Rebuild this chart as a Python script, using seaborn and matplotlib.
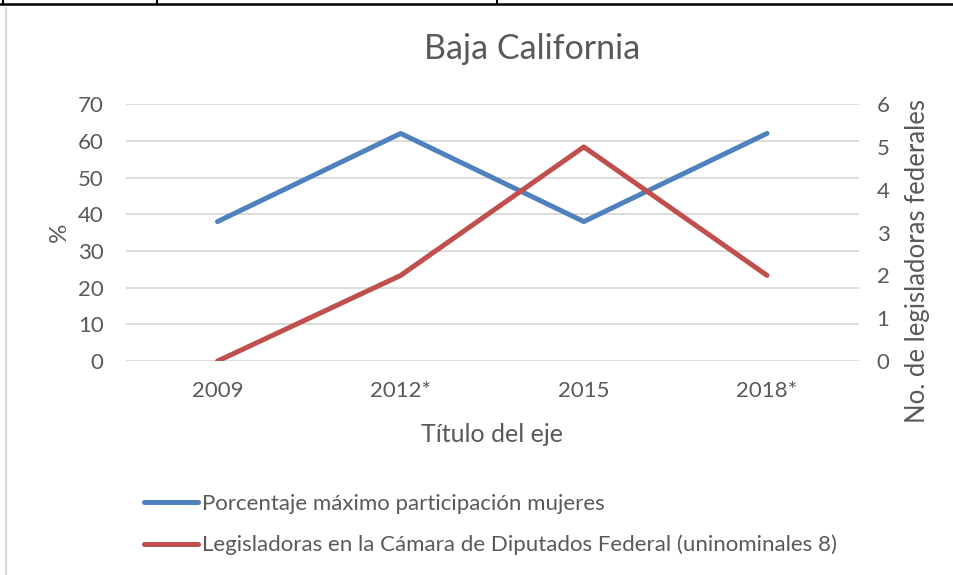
import matplotlib
matplotlib.use("Agg")
import matplotlib.pyplot as plt
from matplotlib.lines import Line2D
import pandas as pd
import seaborn as sns

years = ["2009", "2012*", "2015", "2018*"]
pct_mujeres = [38, 62, 38, 62]
legisladoras = [0, 2, 5, 2]

label_pct = "Porcentaje máximo participación mujeres"
label_leg = "Legisladoras en la Cámara de Diputados Federal (uninominales 8)"

blue = "#4F81BD"
red = "#C0504D"
txt = "#595959"
grid = "#D9D9D9"

sns.set_theme(style="white")
plt.rcParams["font.family"] = ["Lato", "DejaVu Sans"]

df = pd.DataFrame({"year": years, "pct": pct_mujeres, "leg": legisladoras})

fig = plt.figure(figsize=(9.54, 5.75), dpi=100)
ax = fig.add_axes([0.132, 0.372, 0.768, 0.447])
ax2 = ax.twinx()

sns.lineplot(data=df, x="year", y="pct", ax=ax, color=blue, linewidth=3.6,
             sort=False, solid_capstyle="round", label=label_pct, legend=False)
sns.lineplot(data=df, x="year", y="leg", ax=ax2, color=red, linewidth=3.6,
             sort=False, solid_capstyle="round", label=label_leg, legend=False)

ax.set_xlim(-0.5, len(years) - 0.5)
ax.set_ylim(0, 70)
ax.set_yticks(range(0, 71, 10))
ax2.set_ylim(0, 6)
ax2.set_yticks(range(0, 7))
ax.yaxis.grid(True, color=grid, linewidth=1.3)
ax.set_axisbelow(True)

for a in (ax, ax2):
    for s in a.spines.values():
        s.set_visible(False)

ax.tick_params(axis="y", length=0, pad=16, labelsize=16, labelcolor=txt)
ax.tick_params(axis="x", length=0, pad=14, labelsize=16, labelcolor=txt)
ax2.tick_params(axis="y", length=0, pad=13, labelsize=16, labelcolor=txt)

ax.set_xlabel("Título del eje", fontsize=18, color=txt, labelpad=16)
ax.set_ylabel("%", fontsize=17.5, color=txt, labelpad=6)
ax2.set_ylabel("No. de legisladoras federales", fontsize=18.5, color=txt)
ax2.yaxis.set_label_coords(1.063, 0.39)

fig.text(0.558, 0.915, "Baja California", ha="center", va="center",
         fontsize=24.5, color=txt)

handles = [Line2D([], [], color=blue, linewidth=3.6, solid_capstyle="round"),
           Line2D([], [], color=red, linewidth=3.6, solid_capstyle="round")]
fig.legend(handles, [label_pct, label_leg], loc="upper left",
           bbox_to_anchor=(0.142, 0.157), frameon=False, fontsize=16,
           handlelength=2.4, handletextpad=0.2, labelspacing=0.95,
           labelcolor=txt, borderaxespad=0)

# table borders / chart frame around the picture
fig.add_artist(Line2D([0, 1], [0.993, 0.993], color="black", linewidth=1.8))
for xv in (3, 157, 497):
    fig.add_artist(Line2D([xv / 954, xv / 954], [0.993, 1.0], color="black", linewidth=1.5))
fig.add_artist(Line2D([6 / 954, 6 / 954], [0, 0.986], color="#D9D9D9", linewidth=1.5))

fig.savefig("out.png", dpi=100)
